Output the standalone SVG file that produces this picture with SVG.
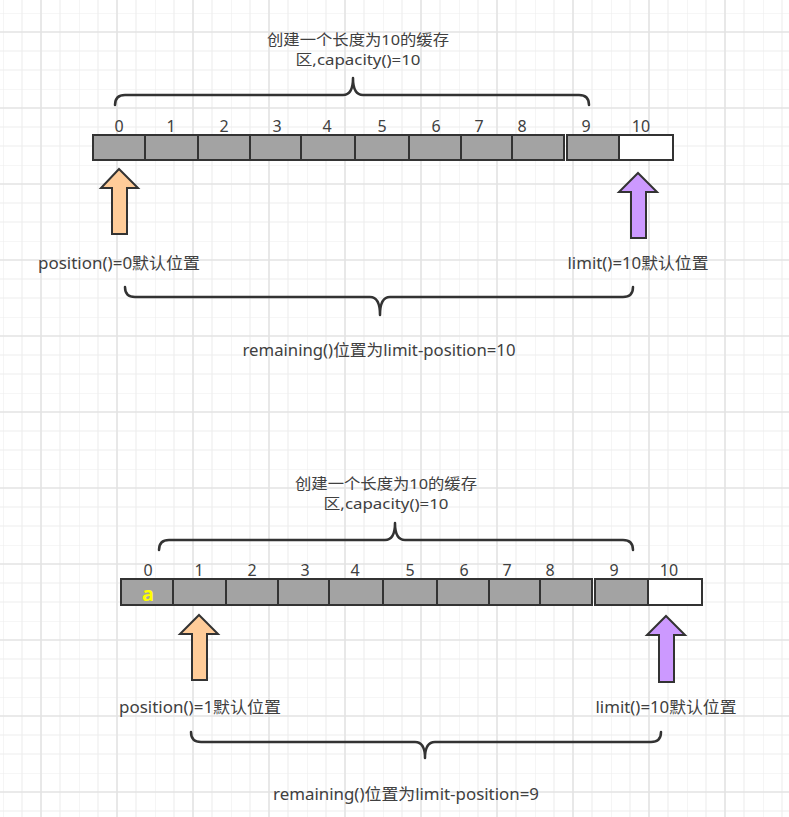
<svg xmlns="http://www.w3.org/2000/svg" width="789" height="817" viewBox="0 0 789 817">
<style>
text{font-family:"Segoe UI","Noto Sans","Noto Sans CJK SC",sans-serif;font-size:16px;fill:#404040;}
.mid{text-anchor:middle;}
.ttl{font-size:15px;}
.cell{fill:#a3a3a3;stroke:#333;stroke-width:2;}
.empty{fill:#fff;stroke:#333;stroke-width:2;}
.brace{fill:none;stroke:#333;stroke-width:2.5;stroke-linejoin:round;stroke-linecap:round;}
.arrow{stroke:#333;stroke-width:2;stroke-linejoin:miter;}
.orange{fill:#ffcc99;}
.purple{fill:#cc99ff;}
.a{fill:#ffff00;font-weight:bold;font-size:20px;}
</style>
<defs>
<pattern id="grid" patternUnits="userSpaceOnUse" x="3" y="13" width="76" height="76">
<path d="M0,0V76M19,0V76M57,0V76M0,0H76M0,38H76M0,57H76" stroke="#eeeeee" stroke-width="1.2" fill="none"/>
<path d="M38,0V76M0,19H76" stroke="#e3e3e3" stroke-width="1.6" fill="none"/>
</pattern>
</defs>
<rect width="789" height="817" fill="#fff"/>
<rect width="789" height="817" fill="url(#grid)"/>

<g id="section1">
<g id="title1">
<text class="mid ttl" x="358" y="45" textLength="182" lengthAdjust="spacingAndGlyphs">创建一个长度为10的缓存</text>
<text class="mid ttl" x="358" y="65" textLength="125" lengthAdjust="spacingAndGlyphs">区,capacity()=10</text>
</g>
<g id="buffer1">
<rect class="cell" x="93" y="135" width="52" height="25"/>
<rect class="cell" x="145" y="135" width="53" height="25"/>
<rect class="cell" x="198" y="135" width="52" height="25"/>
<rect class="cell" x="250" y="135" width="51" height="25"/>
<rect class="cell" x="301" y="135" width="54" height="25"/>
<rect class="cell" x="355" y="135" width="54" height="25"/>
<rect class="cell" x="409" y="135" width="52" height="25"/>
<rect class="cell" x="461" y="135" width="51" height="25"/>
<rect class="cell" x="512" y="135" width="52" height="25"/>
<rect class="cell" x="567" y="135" width="52" height="25"/>
<rect class="empty" x="619" y="135" width="54" height="25"/>
</g>
<g id="indices1">
<text class="mid" x="119" y="132">0</text>
<text class="mid" x="171" y="132">1</text>
<text class="mid" x="224" y="132">2</text>
<text class="mid" x="277" y="132">3</text>
<text class="mid" x="327" y="132">4</text>
<text class="mid" x="382" y="132">5</text>
<text class="mid" x="436" y="132">6</text>
<text class="mid" x="479" y="132">7</text>
<text class="mid" x="522" y="132">8</text>
<text class="mid" x="586" y="132">9</text>
<text class="mid" x="641" y="132">10</text>
</g>
<g id="position1">
<path class="arrow orange" d="M119,169 L138,188 L127,188 L127,234 L112,234 L112,188 L101,188 Z"/>
<text class="mid" x="119" y="269" textLength="162" lengthAdjust="spacingAndGlyphs">position()=0默认位置</text>
</g>
<g id="limit1">
<path class="arrow purple" d="M638,173 L657,192 L646,192 L646,238 L631,238 L631,192 L619,192 Z"/>
<text class="mid" x="638" y="269" textLength="141" lengthAdjust="spacingAndGlyphs">limit()=10默认位置</text>
</g>
<g id="remaining1">
<text class="mid" x="379" y="356" textLength="273" lengthAdjust="spacingAndGlyphs">remaining()位置为limit-position=10</text>
</g>
</g>

<g id="section2">
<g id="title2">
<text class="mid ttl" x="386" y="489" textLength="182" lengthAdjust="spacingAndGlyphs">创建一个长度为10的缓存</text>
<text class="mid ttl" x="386" y="509" textLength="125" lengthAdjust="spacingAndGlyphs">区,capacity()=10</text>
</g>
<g id="buffer2">
<rect class="cell" x="121" y="579" width="52" height="26"/>
<rect class="cell" x="173" y="579" width="53" height="26"/>
<rect class="cell" x="226" y="579" width="52" height="26"/>
<rect class="cell" x="278" y="579" width="51" height="26"/>
<rect class="cell" x="329" y="579" width="54" height="26"/>
<rect class="cell" x="383" y="579" width="54" height="26"/>
<rect class="cell" x="437" y="579" width="52" height="26"/>
<rect class="cell" x="489" y="579" width="51" height="26"/>
<rect class="cell" x="540" y="579" width="52" height="26"/>
<rect class="cell" x="595" y="579" width="53" height="26"/>
<rect class="empty" x="648" y="579" width="54" height="26"/>
<text class="mid a" x="148" y="601">a</text>
</g>
<g id="indices2">
<text class="mid" x="148" y="576">0</text>
<text class="mid" x="199" y="576">1</text>
<text class="mid" x="252" y="576">2</text>
<text class="mid" x="305" y="576">3</text>
<text class="mid" x="355" y="576">4</text>
<text class="mid" x="410" y="576">5</text>
<text class="mid" x="464" y="576">6</text>
<text class="mid" x="507" y="576">7</text>
<text class="mid" x="550" y="576">8</text>
<text class="mid" x="614" y="576">9</text>
<text class="mid" x="669" y="576">10</text>
</g>
<g id="position2">
<path class="arrow orange" d="M199,615 L218,634 L207,634 L207,680 L192,680 L192,634 L180,634 Z"/>
<text class="mid" x="200" y="713" textLength="162" lengthAdjust="spacingAndGlyphs">position()=1默认位置</text>
</g>
<g id="limit2">
<path class="arrow purple" d="M666,616 L685,635 L674,635 L674,682 L659,682 L659,635 L647,635 Z"/>
<text class="mid" x="666" y="713" textLength="141" lengthAdjust="spacingAndGlyphs">limit()=10默认位置</text>
</g>
<g id="remaining2">
<text class="mid" x="406" y="800" textLength="266" lengthAdjust="spacingAndGlyphs">remaining()位置为limit-position=9</text>
</g>
</g>

<g id="connectors">
<path class="brace" d="M115,105 Q115,95 125,95 H343 Q353,95 353,78 Q353,95 363,95 H579 Q589,95 589,105"/>
<path class="brace" d="M125,287 Q125,297 135,297 H370 Q380,297 380,315 Q380,297 390,297 H623 Q633,297 633,287"/>
<path class="brace" d="M159,550 Q159,540 169,540 H385 Q395,540 395,523 Q395,540 405,540 H623 Q633,540 633,550"/>
<path class="brace" d="M191,732 Q191,742 201,742 H415 Q425,742 425,758 Q425,742 435,742 H651 Q661,742 661,732"/>
</g>
</svg>
